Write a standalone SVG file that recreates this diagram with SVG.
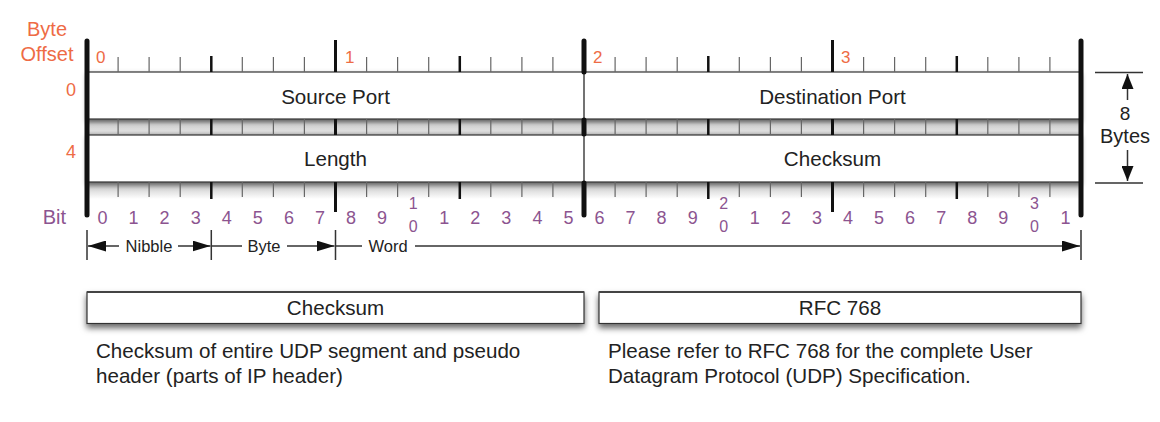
<svg xmlns="http://www.w3.org/2000/svg" width="1160" height="422" viewBox="0 0 1160 422">
<style>
text{font-family:"Liberation Sans",Arial,Helvetica,sans-serif}
.lbl{font-size:20.6px;fill:#222;text-anchor:middle}
.org{fill:#EE6B45}
.pur{fill:#8C5490;font-size:18px;text-anchor:middle}
.pur2{fill:#8C5490;font-size:16px;text-anchor:middle}
.box{fill:#fff;stroke:#333;stroke-width:1.2}
.thin{stroke:#666;stroke-width:1.2;fill:none}
.nib{stroke:#111;stroke-width:2.5;fill:none}
.byt{stroke:#111;stroke-width:3;fill:none}
.edge{stroke:#111;stroke-width:5;fill:none;stroke-linecap:round}
.dim{stroke:#333;stroke-width:1.5;fill:none}
.desc{font-size:20.6px;fill:#222}
</style>
<defs>
<linearGradient id="band" x1="0" y1="0" x2="0" y2="1">
<stop offset="0" stop-color="#9a9a9a"/>
<stop offset="0.35" stop-color="#d2d2d2"/>
<stop offset="0.75" stop-color="#dedede"/>
<stop offset="1" stop-color="#bdbdbd"/>
</linearGradient>
<linearGradient id="band2" x1="0" y1="0" x2="0" y2="1">
<stop offset="0" stop-color="#a0a0a0"/>
<stop offset="0.4" stop-color="#d8d8d8"/>
<stop offset="1" stop-color="#fff"/>
</linearGradient>
<filter id="sh" x="-5%" y="-30%" width="110%" height="180%">
<feDropShadow dx="0" dy="2.5" stdDeviation="2.5" flood-color="#000" flood-opacity="0.4"/>
</filter>
<filter id="sh2" x="-5%" y="-30%" width="110%" height="200%">
<feDropShadow dx="0" dy="4" stdDeviation="3" flood-color="#000" flood-opacity="0.6"/>
</filter>
<marker id="ah" markerUnits="userSpaceOnUse" markerWidth="18" markerHeight="11" refX="18" refY="5.5" orient="auto">
<path d="M0,0 L18,5.5 L0,11 z" fill="#111"/>
</marker>
<marker id="av" markerUnits="userSpaceOnUse" markerWidth="15" markerHeight="12" refX="15" refY="6" orient="auto">
<path d="M0,0 L15,6 L0,12 z" fill="#111"/>
</marker>
</defs>

<g id="offset-labels">
<text class="org" x="47" y="36" font-size="20" text-anchor="middle">Byte</text>
<text class="org" x="47" y="61" font-size="20" text-anchor="middle">Offset</text>
<text class="org" x="96" y="63" font-size="17">0</text>
<text class="org" x="345" y="63" font-size="17">1</text>
<text class="org" x="593" y="63" font-size="17">2</text>
<text class="org" x="841" y="63" font-size="17">3</text>
<text class="org" x="76" y="96" font-size="18" text-anchor="end">0</text>
<text class="org" x="76" y="158" font-size="18" text-anchor="end">4</text>
</g>

<g id="ruler-bands">
<rect x="87" y="119" width="994" height="16" fill="url(#band)"/>
<rect x="87" y="182" width="994" height="17" fill="url(#band2)"/>
</g>

<g id="row1" filter="url(#sh)">
<rect class="box" x="87" y="72" width="994" height="47"/>
</g>
<g id="row2" filter="url(#sh)">
<rect class="box" x="87" y="135" width="994" height="47"/>
</g>
<g id="field-source-port">
<text class="lbl" x="335.5" y="104">Source Port</text>
</g>
<g id="field-destination-port">
<text class="lbl" x="832.5" y="104">Destination Port</text>
</g>
<g id="field-length">
<text class="lbl" x="335.5" y="166">Length</text>
</g>
<g id="field-checksum">
<text class="lbl" x="832.5" y="166">Checksum</text>
</g>
<line x1="584" y1="72" x2="584" y2="182" stroke="#444" stroke-width="1.5"/>

<g id="ticks">
<path class="thin" d="M118.1 57V72M149.1 57V72M180.2 57V72M242.3 57V72M273.4 57V72M304.4 57V72M366.6 57V72M397.6 57V72M428.7 57V72M490.8 57V72M521.9 57V72M552.9 57V72M615.1 57V72M646.1 57V72M677.2 57V72M739.3 57V72M770.4 57V72M801.4 57V72M863.6 57V72M894.6 57V72M925.7 57V72M987.8 57V72M1018.9 57V72M1049.9 57V72"/>
<path class="thin" d="M118.1 119V135M149.1 119V135M180.2 119V135M242.3 119V135M273.4 119V135M304.4 119V135M366.6 119V135M397.6 119V135M428.7 119V135M490.8 119V135M521.9 119V135M552.9 119V135M615.1 119V135M646.1 119V135M677.2 119V135M739.3 119V135M770.4 119V135M801.4 119V135M863.6 119V135M894.6 119V135M925.7 119V135M987.8 119V135M1018.9 119V135M1049.9 119V135"/>
<path class="thin" d="M118.1 182V197M149.1 182V197M180.2 182V197M242.3 182V197M273.4 182V197M304.4 182V197M366.6 182V197M397.6 182V197M428.7 182V197M490.8 182V197M521.9 182V197M552.9 182V197M615.1 182V197M646.1 182V197M677.2 182V197M739.3 182V197M770.4 182V197M801.4 182V197M863.6 182V197M894.6 182V197M925.7 182V197M987.8 182V197M1018.9 182V197M1049.9 182V197"/>
<path class="nib" d="M211.3 56V72M459.8 56V72M708.3 56V72M956.8 56V72M211.3 119V135M459.8 119V135M708.3 119V135M956.8 119V135M211.3 182V199M459.8 182V199M708.3 182V199M956.8 182V199"/>
<path class="byt" d="M335.5 40V72M832.5 40V72M335.5 119V135M832.5 119V135M335.5 182V212M832.5 182V212"/>
<path class="edge" d="M584 41V72M584 120V134M584 183V215M87 41V215M1081 41V215"/>
</g>

<g id="bit-labels">
<text x="66" y="224" font-size="20" fill="#8C5490" text-anchor="end">Bit</text>
<text class="pur" x="102.5" y="224">0</text>
<text class="pur" x="133.6" y="224">1</text>
<text class="pur" x="164.6" y="224">2</text>
<text class="pur" x="195.7" y="224">3</text>
<text class="pur" x="226.8" y="224">4</text>
<text class="pur" x="257.8" y="224">5</text>
<text class="pur" x="288.9" y="224">6</text>
<text class="pur" x="319.9" y="224">7</text>
<text class="pur" x="351.0" y="224">8</text>
<text class="pur" x="382.1" y="224">9</text>
<text class="pur2" x="413.1" y="209">1</text>
<text class="pur2" x="413.1" y="232">0</text>
<text class="pur" x="444.2" y="224">1</text>
<text class="pur" x="475.3" y="224">2</text>
<text class="pur" x="506.3" y="224">3</text>
<text class="pur" x="537.4" y="224">4</text>
<text class="pur" x="568.4" y="224">5</text>
<text class="pur" x="599.5" y="224">6</text>
<text class="pur" x="630.6" y="224">7</text>
<text class="pur" x="661.6" y="224">8</text>
<text class="pur" x="692.7" y="224">9</text>
<text class="pur2" x="723.8" y="209">2</text>
<text class="pur2" x="723.8" y="232">0</text>
<text class="pur" x="754.8" y="224">1</text>
<text class="pur" x="785.9" y="224">2</text>
<text class="pur" x="816.9" y="224">3</text>
<text class="pur" x="848.0" y="224">4</text>
<text class="pur" x="879.1" y="224">5</text>
<text class="pur" x="910.1" y="224">6</text>
<text class="pur" x="941.2" y="224">7</text>
<text class="pur" x="972.3" y="224">8</text>
<text class="pur" x="1003.3" y="224">9</text>
<text class="pur2" x="1034.4" y="209">3</text>
<text class="pur2" x="1034.4" y="232">0</text>
<text class="pur" x="1065.4" y="224">1</text>
</g>

<g id="connectors">
<path class="dim" d="M87 230V260M211.3 230V260M335.5 230V260M1081 230V260"/>
<line class="dim" x1="119" y1="246" x2="88" y2="246" marker-end="url(#ah)"/>
<line class="dim" x1="178" y1="246" x2="210.5" y2="246" marker-end="url(#ah)"/>
<line class="dim" x1="211.3" y1="246" x2="242" y2="246"/>
<line class="dim" x1="287" y1="246" x2="334.5" y2="246" marker-end="url(#ah)"/>
<line class="dim" x1="335.5" y1="246" x2="362" y2="246"/>
<line class="dim" x1="415" y1="246" x2="1080" y2="246" marker-end="url(#ah)"/>
<path class="dim" d="M1095 72.5H1143M1095 183H1143"/>
<line class="dim" x1="1127.5" y1="100" x2="1127.5" y2="74" marker-end="url(#av)"/>
<line class="dim" x1="1127.5" y1="150" x2="1127.5" y2="181" marker-end="url(#av)"/>
</g>
<g id="scale-labels">
<text x="149" y="252" font-size="16.5" fill="#222" text-anchor="middle">Nibble</text>
<text x="264" y="252" font-size="16.5" fill="#222" text-anchor="middle">Byte</text>
<text x="388" y="252" font-size="16.5" fill="#222" text-anchor="middle">Word</text>
<text x="1125" y="120" font-size="19" fill="#222" text-anchor="middle">8</text>
<text x="1125" y="143" font-size="20" fill="#222" text-anchor="middle">Bytes</text>
</g>

<g id="note-checksum">
<rect class="box" x="87" y="292" width="497" height="31.5" filter="url(#sh2)"/>
<line x1="87" y1="292" x2="584" y2="292" stroke="#444" stroke-width="2"/>
<text class="lbl" x="335.5" y="315">Checksum</text>
<text class="desc" x="96" y="358">Checksum of entire UDP segment and pseudo</text>
<text class="desc" x="96" y="383">header (parts of IP header)</text>
</g>
<g id="note-rfc">
<rect class="box" x="599" y="292" width="482" height="31.5" filter="url(#sh2)"/>
<line x1="599" y1="292" x2="1081" y2="292" stroke="#444" stroke-width="2"/>
<text class="lbl" x="840" y="315">RFC 768</text>
<text class="desc" x="608" y="358">Please refer to RFC 768 for the complete User</text>
<text class="desc" x="608" y="383">Datagram Protocol (UDP) Specification.</text>
</g>
</svg>
